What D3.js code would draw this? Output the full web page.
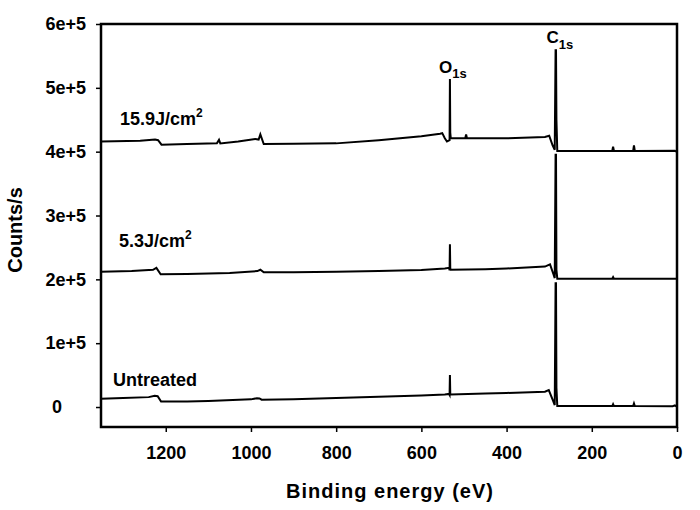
<!DOCTYPE html>
<html>
<head>
<meta charset="utf-8">
<script src="https://cdn.jsdelivr.net/npm/d3@7"></script>
<style>
  html, body { margin: 0; padding: 0; background: #fff; }
  svg { display: block; font-family: "Liberation Sans", Arial, sans-serif; font-weight: bold; }
</style>
</head>
<body>
<svg id="chart" width="700" height="510"></svg>
<script>
// ---- data (binding energy in eV, intensity in counts/s) ----
const untreatedBE = [1352,1300,1240,1226,1219,1211,1150,1100,1000,986,980,975,900,800,700,600,545,535,533.8,533,532.2,531,450,400,310,301,291,287,285,284,283,281,200,152,150,148,103,101,99,10,5,2];
const untreatedCounts = [13000,14000,15500,17800,17000,8500,8500,9500,12000,13800,13500,11500,12000,14000,16000,18000,19500,20500,19000,50000,21000,19500,21000,22000,24000,26500,10000,3000,194000,194000,30000,1500,1500,1500,4500,1500,1500,5500,1500,1200,2500,1000];

const mid53BE = [1352,1280,1230,1222,1212,1150,1050,985,978,970,900,800,700,600,545,535,533.8,533,532.2,531,450,400,310,298,290,287,285,284,283,281,152,150,148,0];
const mid53Counts = [212000,213000,215000,218000,208000,208500,210000,213000,215000,211000,211000,212000,213000,214500,217000,218000,214000,255000,217000,215000,216000,217000,220000,223500,208000,202000,395000,395000,215000,201000,201000,203500,201000,201000];

const high159BE = [1352,1260,1225,1218,1210,1150,1080,1075,1072,1030,990,982,978,970,900,800,700,600,556,551,545,540,533.8,533,532.2,531,497,495,493,400,310,300,292,287,285,284,283,281,152,150,148,103,101,99,5,2];
const high159Counts = [416000,417000,419000,418000,411000,412000,413000,418500,413000,416000,420000,419000,427000,412000,412500,413000,418000,424000,428000,429000,421000,416000,418000,514000,430000,421000,421000,427000,421000,421000,423000,425000,410000,403000,559000,559000,450000,401000,401000,408000,401000,401000,410000,401000,401500,400000];

const xTicks = [1200,1000,800,600,400,200,0];
const xTickLabels = ["1200","1000","800","600","400","200","0"];
const yTicks = [0,100000,200000,300000,400000,500000,600000];
const yTickLabels = ["0","1e+5","2e+5","3e+5","4e+5","5e+5","6e+5"];

const seriesNames = ["Untreated","5.3J/cm","15.9J/cm"];
const seriesSup = ["","2","2"];
const xTitle = "Binding energy (eV)";
const yTitle = "Counts/s";

// ---- layout ----
const svg = d3.select("#chart");
const L = 101, R = 677, T = 24, B = 427;

const x = d3.scaleLinear().domain([1352, 0]).range([L, R]);
const y = d3.scaleLinear().domain([-31300, 600000]).range([B, T]);

const series = [
  {be: untreatedBE, c: untreatedCounts},
  {be: mid53BE, c: mid53Counts},
  {be: high159BE, c: high159Counts}
];

const line = d3.line().x(d => x(d[0])).y(d => y(d[1]));

svg.append("g").selectAll("path")
  .data(series)
  .join("path")
  .attr("d", s => line(s.be.map((b, i) => [b, s.c[i]])))
  .attr("fill", "none")
  .attr("stroke", "#000")
  .attr("stroke-width", 2)
  .attr("stroke-linejoin", "miter");

// axes
const xAxis = d3.axisBottom(x).tickValues(xTicks).tickSize(5).tickPadding(14)
  .tickFormat((d, i) => xTickLabels[i]);
const yAxis = d3.axisLeft(y).tickValues(yTicks).tickSize(5).tickPadding(10)
  .tickFormat((d, i) => yTickLabels[i]);

const gx = svg.append("g").attr("transform", `translate(0,${B})`).call(xAxis);
const gy = svg.append("g").attr("transform", `translate(${L},0)`).call(yAxis);
[gx, gy].forEach(g => {
  g.select(".domain").remove();
  g.selectAll(".tick line").attr("stroke", "#000").attr("stroke-width", 1.5);
  g.selectAll(".tick text").attr("fill", "#000")
    .style("font-size", "18px").style("font-weight", "bold")
    .style("font-family", '"Liberation Sans", Arial, sans-serif');
});
gy.selectAll(".tick text").filter(d => d === 0).attr("dx", -24);

// frame
svg.append("rect").attr("x", L).attr("y", T).attr("width", R - L).attr("height", B - T)
  .attr("fill", "none").attr("stroke", "#000").attr("stroke-width", 2.5);

// axis titles
svg.append("text").attr("x", (L + R) / 2 + 1).attr("y", 498)
  .attr("text-anchor", "middle").style("font-size", "20px").style("letter-spacing", "1px")
  .text(xTitle);
svg.append("text").attr("transform", "translate(22,230) rotate(-90)")
  .attr("text-anchor", "middle").style("font-size", "20px")
  .text(yTitle);

// series labels
const labelPos = [[113, 386], [119, 247], [120, 125]];
seriesNames.forEach((n, i) => {
  const t = svg.append("text").attr("x", labelPos[i][0]).attr("y", labelPos[i][1])
    .style("font-size", "18px");
  t.append("tspan").text(n);
  if (seriesSup[i]) t.append("tspan").attr("dy", -8).style("font-size", "12px").text(seriesSup[i]);
});

// peak labels
function peakLabel(main, sub, px, py, subDy) {
  const t = svg.append("text").attr("x", px).attr("y", py).style("font-size", "17px");
  t.append("tspan").text(main);
  t.append("tspan").attr("dy", subDy).style("font-size", "13px").text(sub);
}
peakLabel("O", "1s", x(533) - 11, y(514000) - 6, 5);
peakLabel("C", "1s", x(285) - 9, y(559000) - 7, 6);
</script>
</body>
</html>
